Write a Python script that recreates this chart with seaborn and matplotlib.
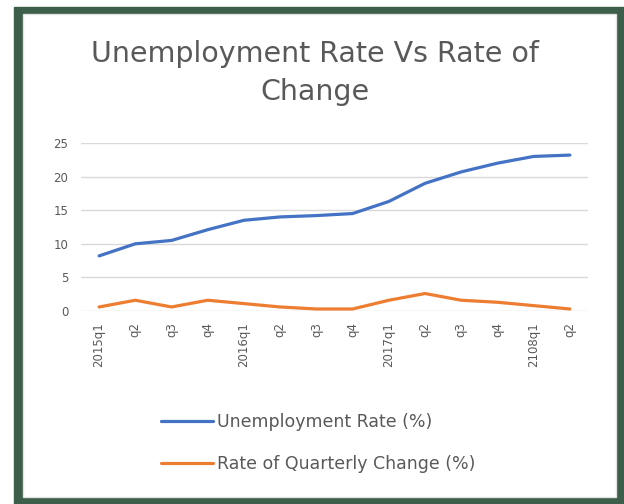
import matplotlib
matplotlib.use("Agg")
import matplotlib.pyplot as plt
import seaborn as sns
import pandas as pd
from matplotlib.patches import Rectangle

# quarter labels as printed on the chart (typo "2108q1" kept)
quarters = ["2015q1", "q2", "q3", "q4", "2016q1", "q2", "q3", "q4",
            "2017q1", "q2", "q3", "q4", "2108q1", "q2"]
unemployment = [8.2, 10.0, 10.5, 12.1, 13.5, 14.0, 14.2, 14.5,
                16.3, 19.0, 20.7, 22.0, 23.0, 23.2]
quarterly_change = [0.6, 1.6, 0.6, 1.6, 1.1, 0.6, 0.3, 0.3,
                    1.6, 2.6, 1.6, 1.3, 0.8, 0.3]
series_names = ["Unemployment Rate (%)", "Rate of Quarterly Change (%)"]
colors = ["#4472C4", "#ED7D31"]

pos = list(range(len(quarters)))
df = pd.DataFrame({
    "pos": pos * 2,
    "value": unemployment + quarterly_change,
    "series": [series_names[0]] * len(pos) + [series_names[1]] * len(pos),
})

sns.set_style("white")
plt.rcParams["font.family"] = ["DejaVu Sans"]
grey = "#595959"

fig = plt.figure(figsize=(6.24, 5.04), dpi=100)
# dark green frame around the chart
fig.patches.append(Rectangle((14 / 624, 0), 610 / 624, 497 / 504,
                             transform=fig.transFigure, color="#3d5e49", zorder=-2))
fig.patches.append(Rectangle((23 / 624, 7 / 504), 593 / 624, 483 / 504,
                             transform=fig.transFigure, facecolor="white",
                             edgecolor="#e2e2e2", lw=1, zorder=-1))

ax = fig.add_axes([81 / 624, 1 - 311 / 504, 507 / 624, 168 / 504])
ax.patch.set_alpha(0)
sns.lineplot(data=df, x="pos", y="value", hue="series", palette=colors,
             hue_order=series_names, linewidth=2.3, ax=ax, legend=False,
             zorder=3)

ax.set_xlim(-0.5, len(quarters) - 0.5)
ax.set_ylim(0, 25)
ax.set_yticks([0, 5, 10, 15, 20, 25])
ax.set_xticks(pos)
ax.set_xticklabels(quarters, rotation=90, va="top")
ax.tick_params(axis="both", length=0, colors=grey, labelsize=8.5)
ax.tick_params(axis="x", pad=8)
ax.tick_params(axis="y", pad=9)
ax.set_xlabel("")
ax.set_ylabel("")
ax.grid(axis="y", color="#d9d9d9", lw=1)
ax.set_axisbelow(True)
for s in ax.spines.values():
    s.set_visible(False)

fig.text(0.505, 1 - 73 / 504, "Unemployment Rate Vs Rate of\nChange",
         ha="center", va="center", fontsize=20.5, color=grey,
         linespacing=1.5)

handles = [plt.Line2D([], [], color=c, lw=2.3) for c in colors]
fig.legend(handles, series_names, loc="center", ncol=1,
           bbox_to_anchor=(0.51, 1 - 443 / 504), frameon=False,
           fontsize=12.5, labelcolor=grey, handlelength=3.0,
           handletextpad=0.2, labelspacing=1.35)

fig.savefig("out.png", dpi=100)
